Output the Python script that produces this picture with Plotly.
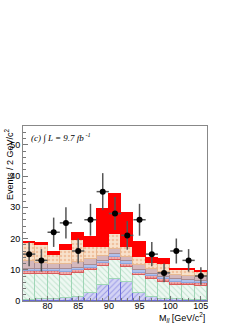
import numpy as np
import plotly.graph_objects as go

# bin centers (2 GeV bins from 76 to 106)
mass = [77, 79, 81, 83, 85, 87, 89, 91, 93, 95, 97, 99, 101, 103, 105]

# stacked components (bottom -> top), events per bin
dy_hatched = [0.4, 0.5, 0.6, 1.0, 1.3, 2.5, 5.0, 7.2, 6.0, 2.5, 1.2, 0.8, 0.5, 0.4, 0.3]
green_hatched = [8.3, 8.1, 8.0, 7.4, 7.7, 7.3, 6.2, 6.0, 5.0, 5.7, 5.8, 5.2, 4.7, 4.6, 4.5]
pink_band = [0.9, 0.9, 0.9, 0.9, 0.9, 0.9, 0.9, 0.9, 0.9, 0.9, 0.9, 0.9, 0.9, 0.9, 0.9]
blue_band = [0.8, 0.8, 0.8, 0.8, 0.8, 0.8, 0.8, 0.8, 0.8, 0.8, 0.8, 0.8, 0.8, 0.8, 0.8]
mauve = [2.4, 2.0, 1.7, 1.7, 1.9, 2.1, 1.6, 1.6, 1.3, 1.6, 1.5, 1.5, 1.4, 1.3, 1.3]
beige = [5.7, 5.5, 2.8, 4.5, 6.9, 3.6, 2.7, 5.0, 3.2, 2.7, 2.1, 2.8, 1.5, 1.8, 1.5]
signal_red = [0.5, 0.7, 0.8, 1.6, 2.2, 3.2, 12.3, 12.8, 10.9, 4.7, 1.5, 1.4, 0.4, 0.4, 0.4]

# observed data
data_counts = [15, 13, 22, 25, 16, 26, 35, 28, 21, 26, 15, 9, 16, 13, 8]

x_ticks = [80, 85, 90, 95, 100, 105]
y_ticks = [0, 10, 20, 30, 40, 50]

fig = go.Figure()

def add_layer(vals, color, line_color, pattern=None):
    marker = dict(color=color, line=dict(color=line_color, width=1))
    if pattern is not None:
        marker["pattern"] = pattern
    fig.add_trace(go.Bar(x=mass, y=vals, width=2, marker=marker,
                         showlegend=False, hoverinfo="skip"))

add_layer(dy_hatched, "#d4d4f4", "#6a6ad8",
          dict(shape="/", fgcolor="#6060d8", size=4, solidity=0.25, fillmode="overlay"))
add_layer(green_hatched, "#eef8f2", "#9fd6b6",
          dict(shape="\\", fgcolor="#98d0ae", size=4, solidity=0.25, fillmode="overlay"))
add_layer(pink_band, "#f0b0b0", "#d85c5c",
          dict(shape=".", fgcolor="#d04040", size=3, solidity=0.4, fillmode="overlay"))
add_layer(blue_band, "#b0c0ea", "#8ea4dc")
add_layer(mauve, "#d4b8bc", "#a88c94")
add_layer(beige, "#f8e2cc", "#e8b890",
          dict(shape=".", fgcolor="#e8a070", size=4, solidity=0.35, fillmode="overlay"))
add_layer(signal_red, "#ff0000", "#ff0000")

errs = [float(np.sqrt(v)) for v in data_counts]
fig.add_trace(go.Scatter(
    x=mass, y=data_counts, mode="markers",
    marker=dict(color="black", size=6),
    error_y=dict(type="data", array=errs, color="#555555", thickness=1.5, width=0),
    error_x=dict(type="constant", value=1, color="#555555", thickness=1.5, width=0),
    showlegend=False, hoverinfo="skip"))

font_axis = dict(family="Liberation Sans, Arial, sans-serif", size=9, color="black")

fig.update_layout(
    width=249, height=323,
    margin=dict(l=23, r=42, t=126, b=22, autoexpand=False),
    barmode="stack", bargap=0,
    paper_bgcolor="white", plot_bgcolor="white",
    font=font_axis,
    xaxis=dict(range=[76, 106], tickvals=x_ticks, ticks="inside", ticklen=5,
               tickcolor="#777", showgrid=False, zeroline=False, automargin=False,
               showline=True, linecolor="#888", linewidth=1, mirror=True,
               ticklabelstandoff=-4,
               tickfont=dict(family="Liberation Sans, Arial", size=9, color="black"),
               minor=dict(dtick=1, ticks="inside", ticklen=3, tickcolor="#777")),
    yaxis=dict(range=[0, 56], tickvals=y_ticks, ticks="inside", ticklen=5,
               tickcolor="#777", showgrid=False, zeroline=False, automargin=False,
               showline=True, linecolor="#888", linewidth=1, mirror=True,
               tickfont=dict(family="Liberation Sans, Arial", size=9, color="black"),
               minor=dict(dtick=2, ticks="inside", ticklen=3, tickcolor="#777")),
)

fig.add_annotation(x=1, y=0, xref="paper", yref="paper", xanchor="right", yanchor="middle",
                   yshift=-16,
                   text="M<sub><i>ll</i></sub> [GeV/c<sup>2</sup>]", showarrow=False,
                   font=dict(family="Liberation Sans, Arial", size=9, color="black"))
fig.add_annotation(x=-0.076, y=1.0, xref="paper", yref="paper", xanchor="center", yanchor="top",
                   text="Events / 2 GeV/c<sup>2</sup>", textangle=-90, showarrow=False,
                   font=dict(family="Liberation Sans, Arial", size=9, color="black"))
fig.add_annotation(x=0.03, y=0.985, xref="paper", yref="paper", xanchor="left", yanchor="top",
                   text="<i>(c) ∫ L = 9.7 fb<sup> -1</sup></i>", showarrow=False,
                   font=dict(family="Liberation Serif, Times New Roman, serif", size=9, color="black"))

fig.write_html("out.html", config={"displayModeBar": False},
               post_script="document.body.style.margin='0';document.body.style.overflow='hidden';")
